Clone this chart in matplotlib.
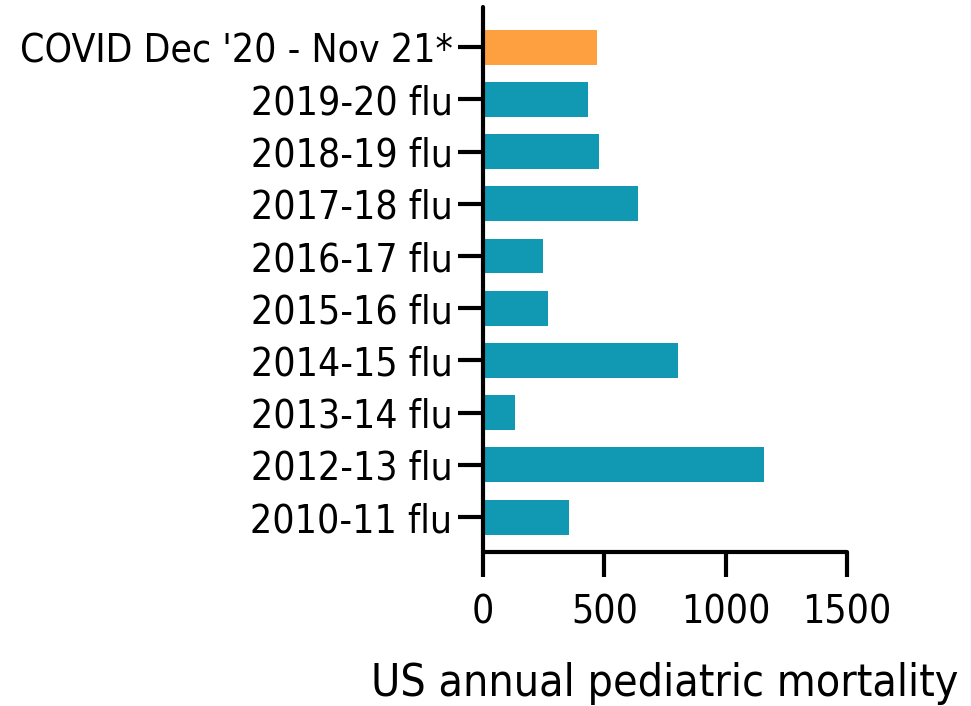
import numpy as np
import matplotlib.pyplot as plt

# seasons, bottom to top as drawn
seasons = ['2010-11 flu', '2012-13 flu', '2013-14 flu', '2014-15 flu', '2015-16 flu',
           '2016-17 flu', '2017-18 flu', '2018-19 flu', '2019-20 flu',
           "COVID Dec '20 - Nov 21*"]
deaths = [353, 1159, 133, 802, 266, 249, 640, 478, 432, 469]
bar_colors = ['#1199b3'] * 9 + ['#ffa040']
x_ticks = [0, 500, 1000, 1500]

plt.rcParams['font.family'] = ['DejaVu Sans']
plt.rcParams['font.stretch'] = 'condensed'

fig = plt.figure(figsize=(9.71, 7.06), dpi=100)
ax = fig.add_axes([483 / 971, 1 - 552 / 706, (847 - 483) / 971, (552 - 7) / 706])

ypos = np.arange(len(seasons))
ax.barh(ypos, deaths, height=0.67, color=bar_colors, zorder=2)

ax.set_xlim(0, 1500)
ax.set_ylim(-0.67, 9.77)
ax.set_xticks(x_ticks)
ax.set_xticklabels([str(t) for t in x_ticks])
ax.set_yticks(ypos)
ax.set_yticklabels(seasons)

for side in ['top', 'right']:
    ax.spines[side].set_visible(False)
for side in ['left', 'bottom']:
    ax.spines[side].set_linewidth(3)
    ax.spines[side].set_capstyle('round')

ax.tick_params(axis='both', length=18, width=3, labelsize=28, direction='out')
ax.tick_params(axis='y', pad=4)
ax.tick_params(axis='x', pad=12)
ax.set_xlabel('US annual pediatric mortality', fontsize=32, labelpad=22)

fig.savefig('out.png', dpi=100)
